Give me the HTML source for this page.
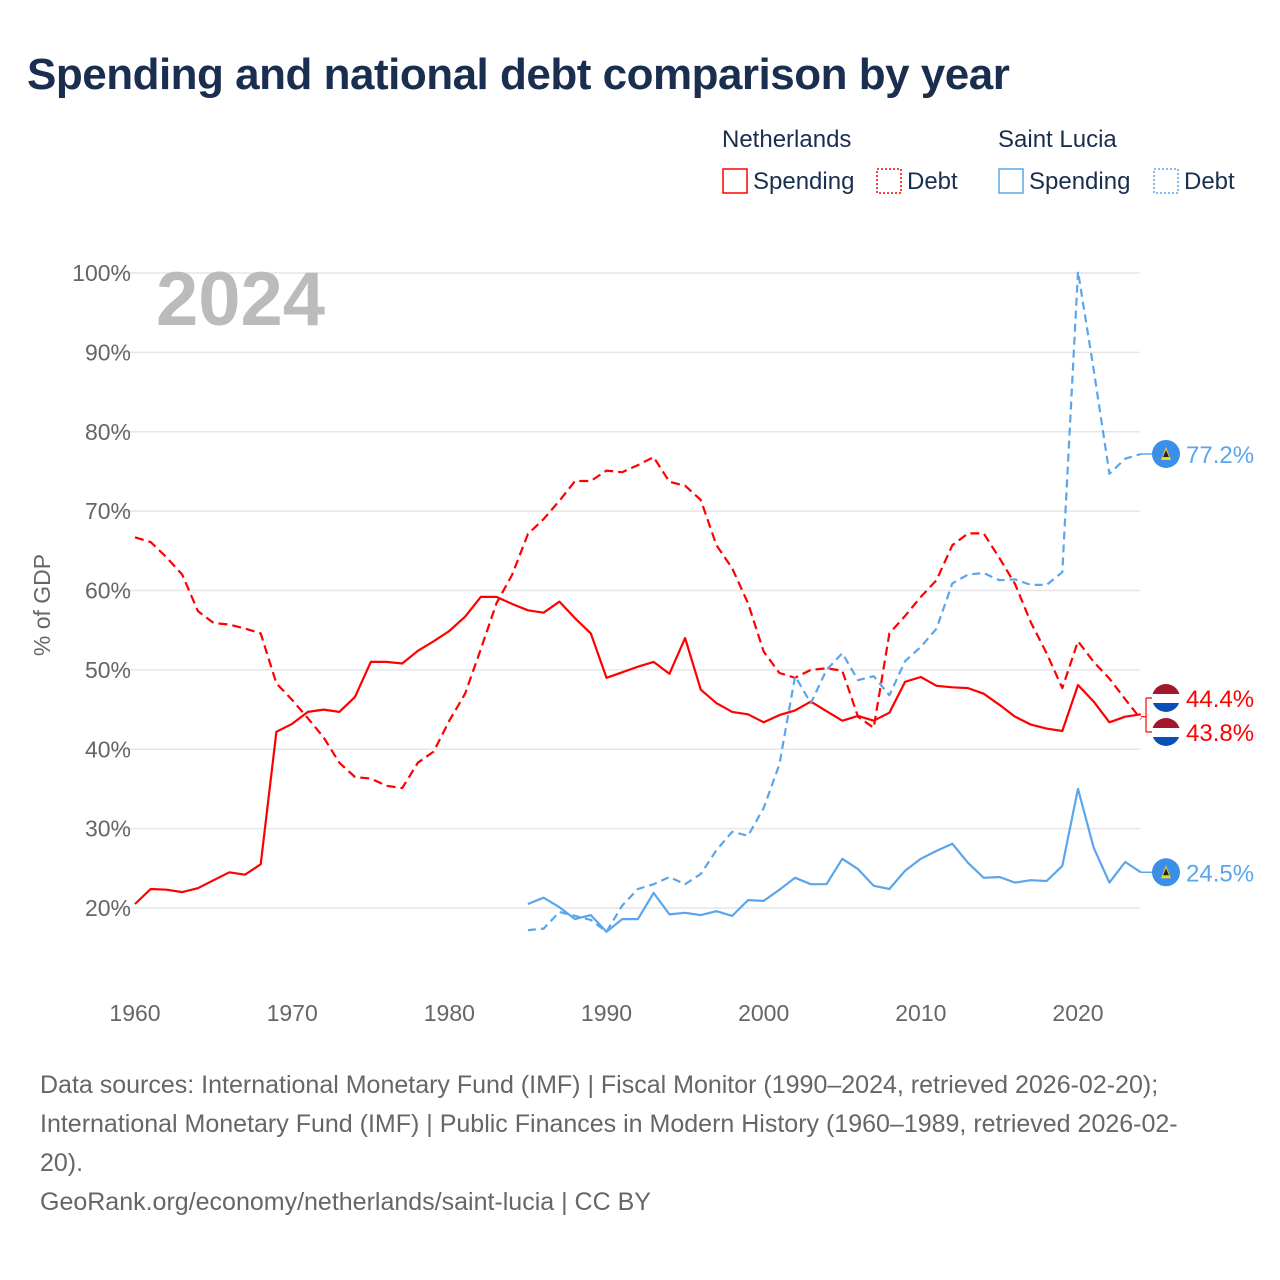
<!DOCTYPE html>
<html><head><meta charset="utf-8">
<style>
body{margin:0;background:#fff;font-family:"Liberation Sans",sans-serif;}
#wrap{position:relative;width:1280px;height:1280px;overflow:hidden;}
h1{position:absolute;left:27px;top:50px;margin:0;font-size:44px;font-weight:bold;color:#1a2e4f;letter-spacing:-0.5px;}
.src{position:absolute;left:40px;top:1066px;width:1200px;font-size:25px;line-height:39px;color:#666;}
</style></head><body>
<div id="wrap">
<h1>Spending and national debt comparison by year</h1>
<svg id="chart" width="1280" height="1280" style="position:absolute;left:0;top:0"></svg>
<div class="src">Data sources: International Monetary Fund (IMF) | Fiscal Monitor (1990–2024, retrieved 2026-02-20);<br>International Monetary Fund (IMF) | Public Finances in Modern History (1960–1989, retrieved 2026-02-<br>20).<br>GeoRank.org/economy/netherlands/saint-lucia | CC BY</div>
</div>
<script>
const nlYears=[];for(let y=1960;y<=2024;y++)nlYears.push(y);
const lcYears=[];for(let y=1985;y<=2024;y++)lcYears.push(y);
const nlSpending=[20.5,22.4,22.3,22.0,22.5,23.5,24.5,24.2,25.5,42.2,43.2,44.7,45.0,44.7,46.6,51.0,51.0,50.8,52.4,53.6,54.9,56.7,59.2,59.2,58.3,57.5,57.2,58.6,56.5,54.6,49.0,49.7,50.4,51.0,49.5,54.0,47.5,45.8,44.7,44.4,43.4,44.3,44.9,46.0,44.8,43.6,44.2,43.6,44.6,48.5,49.1,48.0,47.8,47.7,47.0,45.6,44.1,43.1,42.6,42.3,48.1,46.0,43.4,44.1,44.4];
const nlDebt=[66.7,66.1,64.2,62.0,57.4,55.9,55.7,55.2,54.6,48.3,46.2,43.9,41.5,38.3,36.5,36.3,35.4,35.1,38.3,39.7,43.6,47.0,52.6,58.4,62.0,67.1,69.0,71.3,73.8,73.8,75.1,74.9,75.8,76.8,73.7,73.2,71.4,65.7,62.8,58.4,52.3,49.6,49.0,50.0,50.2,49.9,44.1,42.7,54.6,56.8,59.2,61.3,65.7,67.2,67.2,64.1,60.8,56.0,52.1,47.7,53.6,51.0,48.9,46.3,43.8];
const lcSpending=[20.5,21.3,20.1,18.6,19.1,17.0,18.6,18.6,21.9,19.2,19.4,19.1,19.6,19.0,21.0,20.9,22.3,23.8,23.0,23.0,26.2,24.9,22.8,22.4,24.7,26.2,27.2,28.1,25.7,23.8,23.9,23.2,23.5,23.4,25.3,35.0,27.6,23.2,25.8,24.5];
const lcDebt=[17.2,17.4,19.5,19.0,18.5,17.0,20.3,22.4,23.0,23.9,23.0,24.3,27.3,29.6,29.1,32.6,38.1,49.2,45.8,50.0,52.1,48.7,49.2,46.8,51.1,52.9,55.2,60.9,62.0,62.2,61.3,61.4,60.7,60.7,62.3,100.2,87.8,74.7,76.6,77.2];
const yTicks=[20,30,40,50,60,70,80,90,100];
const xTicks=[1960,1970,1980,1990,2000,2010,2020];

const svg=document.getElementById('chart');const NS='http://www.w3.org/2000/svg';
const X=y=>135+(y-1960)*(1078-135)/60;
const Y=v=>908-(v-20)*(908-273)/80;
function mk(t,a,p){const e=document.createElementNS(NS,t);for(const k in a)e.setAttribute(k,a[k]);(p||svg).appendChild(e);return e;}
const F='"Liberation Sans",sans-serif';
yTicks.forEach(v=>{
 const l=mk('line',{x1:112,x2:1140,y1:Y(v),y2:Y(v),stroke:'#e6e6e6','stroke-width':1.5});
 
 
 const t=mk('text',{x:131,y:Y(v)+8,'text-anchor':'end','font-size':23,fill:'#666','font-family':F});t.textContent=v+'%';
 
 
});
xTicks.forEach(yr=>{
 const t=mk('text',{x:X(yr),y:1021,'text-anchor':'middle','font-size':23,fill:'#666','font-family':F});t.textContent=yr;
 
 
});
const yt=mk('text',{x:0,y:0,transform:'translate(50,605) rotate(-90)','text-anchor':'middle','font-size':23,fill:'#666','font-family':F});yt.textContent='% of GDP';


const yr=mk('text',{x:156,y:325,'font-size':76,'font-weight':'bold',fill:'#bbb','font-family':F});yr.textContent='2024';



function line(xs,vs,color,dash,name){
 const d=vs.map((v,i)=>(i?'L':'M')+X(xs[i]).toFixed(1)+','+Y(v).toFixed(1)).join('');
 const p=mk('path',{d:d,fill:'none',stroke:color,'stroke-width':2.2,'stroke-dasharray':dash||'','stroke-linejoin':'round'});
 
 
}
const RED='#ff0000',BLUE='#5aa5ec';
line(nlYears,nlDebt,RED,'9,5','netherlands-debt-line');
line(nlYears,nlSpending,RED,'','netherlands-spending-line');
line(lcYears,lcDebt,BLUE,'8,5','saint-lucia-debt-line');
line(lcYears,lcSpending,BLUE,'','saint-lucia-spending-line');

function lcBadge(v,name){
 const y=Y(v);
 mk('line',{x1:1141,x2:1152,y1:y,y2:y,stroke:BLUE,'stroke-width':1.5});
 const g=mk('g',{});
 
 
 mk('circle',{cx:1166,cy:y,r:14,fill:'#3b8fe8'},g);
 mk('polygon',{points:`1166,${y-7} 1171,${y+6} 1161,${y+6}`,fill:'#f7d21b'},g);
 mk('polygon',{points:`1166,${y-4} 1169,${y+3} 1163,${y+3}`,fill:'#222'},g);
 const t=mk('text',{x:1186,y:y+9,'font-size':24,fill:BLUE,'font-family':F},g);t.textContent=v.toFixed(1)+'%';
}
function nlBadge(v,y,name){
 const g=mk('g',{});
 
 
 const cp='c'+Math.round(y);
 const cl=mk('clipPath',{id:cp},g);mk('circle',{cx:1166,cy:y,r:14},cl);
 mk('rect',{x:1152,y:y-14,width:28,height:10,fill:'#a3162b','clip-path':`url(#${cp})`},g);
 mk('rect',{x:1152,y:y-4,width:28,height:9,fill:'#fff','clip-path':`url(#${cp})`},g);
 mk('rect',{x:1152,y:y+5,width:28,height:10,fill:'#0a4fb5','clip-path':`url(#${cp})`},g);
 const t=mk('text',{x:1186,y:y+9,'font-size':24,fill:RED,'font-family':F},g);t.textContent=v.toFixed(1)+'%';
}
lcBadge(lcDebt[lcDebt.length-1],'saint-lucia-debt-end-label');
lcBadge(lcSpending[lcSpending.length-1],'saint-lucia-spending-end-label');
mk('path',{d:`M1141,${Y(44.1)} L1146,${Y(44.1)} M1146,698 L1146,732 M1146,698 L1152,698 M1146,732 L1152,732`,stroke:RED,'stroke-width':1.2,fill:'none'});
nlBadge(nlSpending[nlSpending.length-1],698,'netherlands-spending-end-label');
nlBadge(nlDebt[nlDebt.length-1],732,'netherlands-debt-end-label');

function txt(x,y,s,name,inter){const t=mk('text',{x:x,y:y,'font-size':24,fill:'#1a2e4f','font-family':F});t.textContent=s;
 
 return t;}
txt(722,147,'Netherlands','legend-netherlands-heading',false);
txt(998,147,'Saint Lucia','legend-saint-lucia-heading',false);
function sw(x,color,dash){mk('rect',{x:x,y:169,width:24,height:24,fill:'none',stroke:color,'stroke-width':1.5,'stroke-dasharray':dash||''});}
sw(723,RED);txt(753,189,'Spending','legend-netherlands-spending',true);
sw(877,RED,'2,2');txt(907,189,'Debt','legend-netherlands-debt',true);
sw(999,BLUE);txt(1029,189,'Spending','legend-saint-lucia-spending',true);
sw(1154,BLUE,'2,2');txt(1184,189,'Debt','legend-saint-lucia-debt',true);
</script>
</body></html>
